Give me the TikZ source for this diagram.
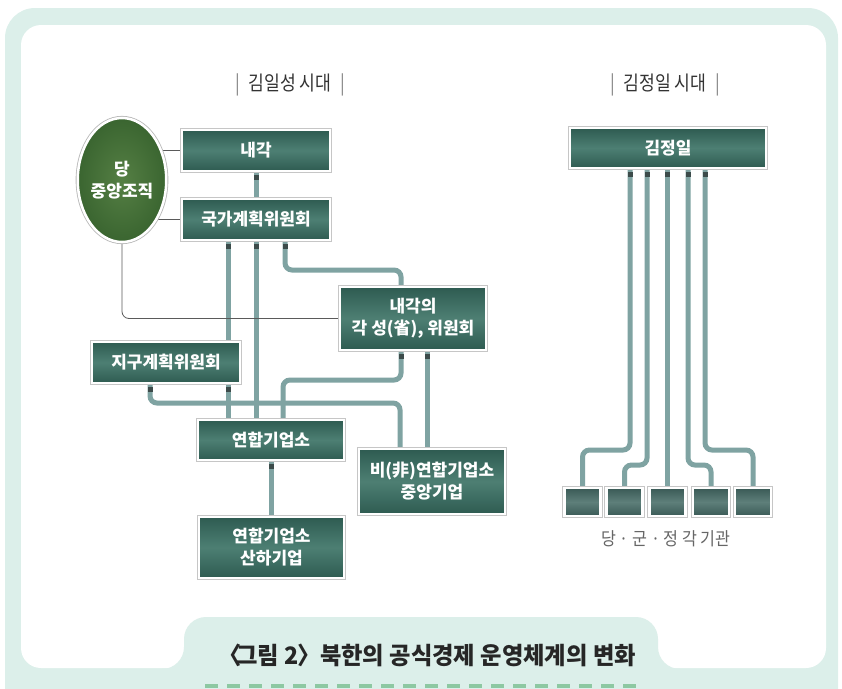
\documentclass[tikz,border=0pt]{standalone}
\usepackage{fontspec}
\setmainfont{Noto Sans CJK KR}
\usetikzlibrary{calc,shapes.geometric}
\definecolor{mint}{HTML}{DCEFEA}
\definecolor{connc}{HTML}{7FA3A2}
\definecolor{plugc}{HTML}{3C4B4A}
\definecolor{boxtop}{HTML}{2E5B51}
\definecolor{boxmid}{HTML}{4D7F73}
\definecolor{smalltop}{HTML}{3A5A56}
\definecolor{smallmid}{HTML}{5E7F7A}
\definecolor{dashc}{HTML}{8DC8A2}
\definecolor{ellin}{HTML}{557F44}
\definecolor{ellout}{HTML}{3A6530}
\definecolor{thinc}{HTML}{5A5A5A}
\definecolor{headc}{HTML}{333333}
\pgfdeclarelayer{back}
\pgfdeclarelayer{bg}
\pgfsetlayers{back,bg,main}
\newcommand{\narrow}[2]{\scalebox{#1}[1]{#2}}
\begin{document}
\begin{tikzpicture}[x=1pt,y=-1pt,
  box/.style={rectangle, inner sep=2pt, text=white, align=center,
    font=\fontsize{17}{22}\selectfont\bfseries,
    top color=boxtop, bottom color=boxtop, middle color=boxmid,
    draw=white, line width=2.5pt,
    preaction={draw=gray!45, line width=4.2pt}},
  smallbox/.style={rectangle, inner sep=0pt, minimum width=36pt, minimum height=28pt,
    top color=smalltop, bottom color=smalltop, middle color=smallmid,
    draw=white, line width=2.5pt,
    preaction={draw=gray!45, line width=4.2pt}},
  party/.style={ellipse, inner sep=0pt, minimum width=80pt, minimum height=124pt,
    text=white, align=center, font=\fontsize{17}{22}\selectfont\bfseries,
    inner color=ellin, outer color=ellout,
    draw=white, line width=2.5pt,
    preaction={draw=gray!55, line width=4.2pt}},
  conn/.style={draw=connc, line width=5pt, rounded corners=7pt},
  thin/.style={draw=thinc, line width=0.8pt, rounded corners=7pt},
  plug/.style={fill=plugc, draw=none, sharp corners, inner sep=0pt,
    minimum width=5pt, minimum height=5pt, anchor=north},
  head/.style={text=headc, font=\fontsize{20}{24}\selectfont},
  caption/.style={text=black!85, font=\fontsize{24}{28}\selectfont\bfseries}
]
\useasboundingbox (0,0) rectangle (842,688);

% ---------- frame ----------
\begin{pgfonlayer}{back}
  \clip (0,0) rectangle (842,688);
  \fill[mint, rounded corners=30pt] (5,8) rectangle (838,730);
  \fill[white, rounded corners=20pt] (21,25) rectangle (826,668);
  \fill[mint, rounded corners=22pt] (140,669) -- (184,669) -- (184,617) -- (658,617)
     -- (658,669) -- (702,669) -- (702,730) -- (140,730) -- cycle;
  \draw[dashc, line width=4pt, dash pattern=on 13pt off 9pt] (205,686) -- (642,686);
\end{pgfonlayer}

% ---------- headers ----------
\node[head] (h1) at (290,85) {\narrow{0.86}{\textcolor{gray}{|}\enspace 김일성 시대\enspace\textcolor{gray}{|}}};
\node[head] (h2) at (665,85) {\narrow{0.86}{\textcolor{gray}{|}\enspace 김정일 시대\enspace\textcolor{gray}{|}}};

% ---------- left nodes ----------
\node[party] (party) at (122,180) {당\\중앙조직};
\node[box, minimum width=148pt, minimum height=41pt] (naegak) at (256,150.5) {내각};
\node[box, minimum width=148pt, minimum height=41pt] (gk) at (256,219.5) {국가계획위원회};
\node[box, minimum width=146pt, minimum height=63pt] (seong) at (413,318.5) {내각의\\각 성(省), 위원회};
\node[box, minimum width=148pt, minimum height=41pt] (jigu) at (166,362.5) {지구계획위원회};
\node[box, minimum width=146pt, minimum height=40pt] (yeonhap) at (271,440) {연합기업소};
\node[box, minimum width=146pt, minimum height=65pt] (bi) at (432,481.5) {비(非)연합기업소\\중앙기업};
\node[box, minimum width=145pt, minimum height=61pt] (sanha) at (271.5,547.5) {연합기업소\\산하기업};

% ---------- right nodes ----------
\node[box, minimum width=196pt, minimum height=40pt] (kjl) at (668,148) {김정일};
\node[smallbox] (s1) at (582.5,502) {};
\node[smallbox] (s2) at (624.5,502) {};
\node[smallbox] (s3) at (667.5,502) {};
\node[smallbox] (s4) at (711,502) {};
\node[smallbox] (s5) at (753,502) {};
\node[text=black!60, font=\fontsize{18}{21}\selectfont] (lab) at (666,539) {\narrow{0.9}{당 · 군 · 정 각 기관}};

% caption
\node[caption] (cap) at (427,655) {\narrow{0.97}{〈\kern-0.22em 그림 2\kern-0.05em 〉\kern-0.25em\ 북한의 공식경제 운영체계의 변화}};

% ---------- helper coordinates ----------
\coordinate (r270) at (0,270);
\coordinate (r380) at (0,380);
\coordinate (r403) at (0,403);
\coordinate (r450) at (0,450);
\coordinate (r465) at (0,465);

\coordinate (g1) at ([xshift=-28pt]gk.south);
\coordinate (g2) at (gk.south);
\coordinate (g3) at ([xshift=29pt]gk.south);
\coordinate (j1) at ([xshift=-16pt]jigu.south);
\coordinate (j2) at ([xshift=62pt]jigu.south);
\coordinate (e1) at ([xshift=-12pt]seong.south);
\coordinate (e2) at ([xshift=14pt]seong.south);
\coordinate (k1) at ([xshift=-38pt]kjl.south);
\coordinate (k2) at ([xshift=-21pt]kjl.south);
\coordinate (k3) at ([xshift=-1pt]kjl.south);
\coordinate (k4) at ([xshift=20pt]kjl.south);
\coordinate (k5) at ([xshift=37pt]kjl.south);

% ---------- connectors ----------
\begin{pgfonlayer}{bg}
  % thin party lines
  \draw[thin] (naegak.west) -- (naegak.west -| party.center);
  \draw[thin] (gk.west) -- (gk.west -| party.center);

  % left thick connectors
  \draw[conn] (naegak.south) node[plug]{} -- (gk.north);
  \draw[conn] (g1) node[plug]{} -- (g1 |- jigu.north);
  \draw[conn] (g2) node[plug]{} -- (g2 |- yeonhap.north);
  \draw[conn] (g3) node[plug]{} -- (g3 |- r270) -| ([xshift=-12pt]seong.north);
  \draw[conn] (j1) node[plug]{} -- (j1 |- r403) -| ([xshift=-32pt]bi.north);
  \draw[conn] (j2) node[plug]{} -- (j2 |- yeonhap.north);
  \draw[conn] (e1) node[plug]{} -- (e1 |- r380) -| ([xshift=12pt]yeonhap.north);
  \draw[conn] (e2) node[plug]{} -- (e2 |- bi.north);
  \draw[conn] (yeonhap.south) node[plug]{} -- (yeonhap.south |- sanha.north);
  \draw[thin] (party.center) |- (seong.west);

  % right connectors
  \draw[conn] (k1) node[plug]{} -- (k1 |- r450) -| (s1.north);
  \draw[conn] (k2) node[plug]{} -- (k2 |- r465) -| (s2.north);
  \draw[conn] (k3) node[plug]{} -- (k3 |- s3.north);
  \draw[conn] (k4) node[plug]{} -- (k4 |- r465) -| (s4.north);
  \draw[conn] (k5) node[plug]{} -- (k5 |- r450) -| (s5.north);
\end{pgfonlayer}
\end{tikzpicture}
\end{document}
